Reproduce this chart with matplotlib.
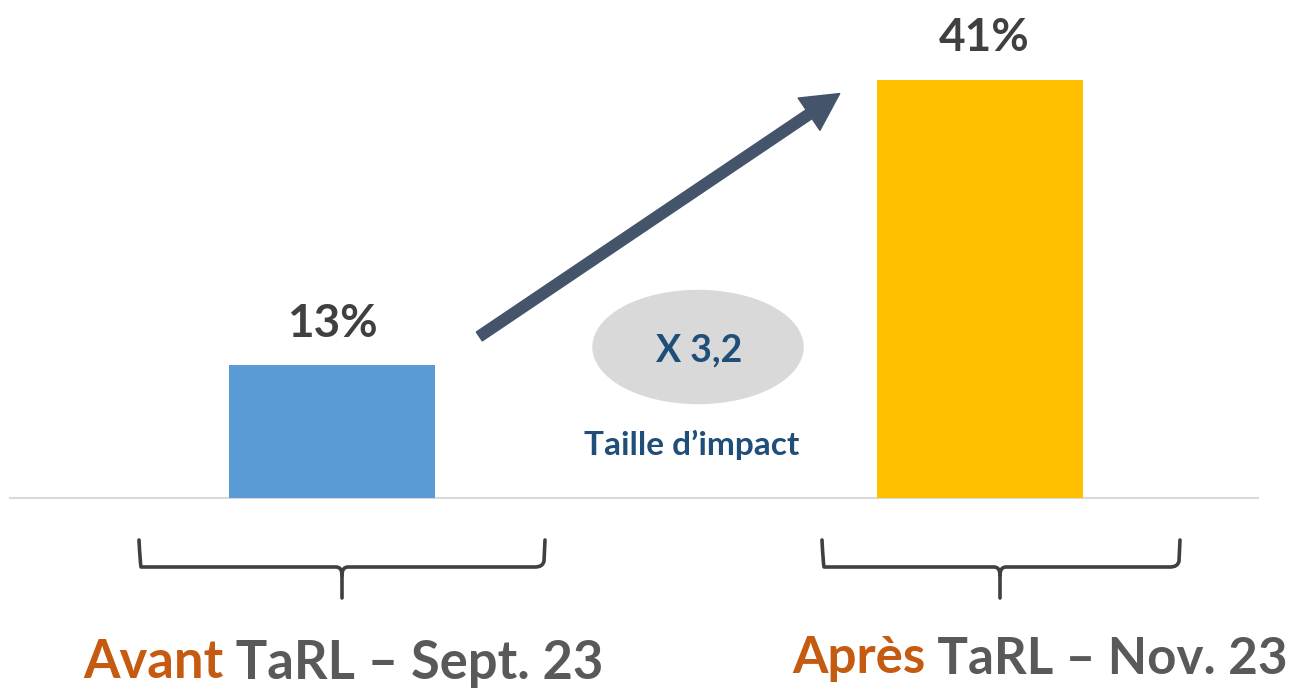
import matplotlib
matplotlib.use("Agg")
import matplotlib.pyplot as plt
from matplotlib.patches import Ellipse, FancyArrowPatch
from matplotlib.path import Path
from matplotlib.patches import PathPatch

# ---- data ----
categories = ["Avant", "Après"]
values = [13, 41]
bar_colors = ["#5B9BD5", "#FFC000"]
value_labels = ["13%", "41%"]
prefix_labels = ["Avant", "Après"]
suffix_labels = [" TaRL – Sept. 23", " TaRL – Nov. 23"]
ratio_label = "X 3,2"
ratio_caption = "Taille d’impact"

W, H = 1299, 691
plt.rcParams['font.family'] = ['Lato', 'DejaVu Sans']
fig = plt.figure(figsize=(W / 100, H / 100), dpi=100)
ax = fig.add_axes([0, 0, 1, 1])

# pixel mapping helpers (x px from left, y px from top)
X0, XSTEP = 332.0, 648.0
Y0, YSTEP = 498.0, 10.2
def dx(px):
    return (px - X0) / XSTEP
def dy(py):
    return (Y0 - py) / YSTEP

ax.set_xlim(dx(0), dx(W))
ax.set_ylim(dy(H), dy(0))
ax.axis("off")

xpos = [0, 1]
ax.bar(xpos, values, width=206 / XSTEP, color=bar_colors, zorder=2)
ax.plot([dx(10), dx(1258)], [0, 0], color="#d9d9d9", lw=1.5, zorder=1)

# value labels
for x, v, lab in zip(xpos, values, value_labels):
    ax.text(x + (0.006 if v > 20 else 0), v + 4.1, lab, ha="center", va="center",
            fontsize=33, fontweight="bold", color="#404040")

# arrow
arr = FancyArrowPatch((dx(477), dy(338)), (dx(842), dy(92)),
                      arrowstyle="simple,head_width=2.0,head_length=1.9,tail_width=0.55",
                      mutation_scale=14, color="#44546A", zorder=3)
ax.add_patch(arr)

# ellipse with ratio
ell = Ellipse((dx(698), dy(347)), 210 / XSTEP, 113 / YSTEP, color="#d9d9d9", zorder=2)
ax.add_patch(ell)
ax.text(dx(699), dy(350), ratio_label, ha="center", va="center", fontsize=27,
        fontweight="bold", color="#1F4E79", zorder=4)
ax.text(dx(692), dy(445), ratio_caption, ha="center", va="center", fontsize=24,
        fontweight="bold", color="#1F4E79")

# braces
def brace(x1, x2, xc, ytop=540, ymid=567, ybot=598):
    verts = [
        (x1, ytop), (x1 + 1, ymid - 6), (x1 + 2, ymid), (x1 + 10, ymid),
        (xc - 6, ymid), (xc, ymid), (xc, ymid + 8), (xc, ybot),
        (xc, ymid + 8), (xc, ymid), (xc + 6, ymid),
        (x2 - 10, ymid), (x2 - 2, ymid), (x2 - 1, ymid - 6), (x2, ytop),
    ]
    codes = [Path.MOVETO, Path.CURVE3, Path.CURVE3, Path.LINETO,
             Path.LINETO, Path.CURVE3, Path.CURVE3, Path.LINETO,
             Path.MOVETO, Path.CURVE3, Path.CURVE3,
             Path.LINETO, Path.CURVE3, Path.CURVE3, Path.LINETO]
    v = [(dx(a), dy(b)) for a, b in verts]
    ax.add_patch(PathPatch(Path(v, codes), fill=False, lw=2.6, color="#404040",
                           capstyle="round", joinstyle="round"))

brace(139, 545, 342)
brace(822, 1180, 1000)

# bottom labels
label_pos = [(83, 663), (792, 659)]
label_sizes = [37.8, 36.8]
for (px, py), fs, pre, suf in zip(label_pos, label_sizes, prefix_labels, suffix_labels):
    t = ax.text(dx(px), dy(py), pre, ha="left", va="center", fontsize=fs,
                fontweight="bold", color="#C55A11")
    fig.canvas.draw()
    bb = t.get_window_extent()
    inv = ax.transData.inverted()
    xr = inv.transform((bb.x1, bb.y0))[0]
    ax.text(xr, dy(py), suf, ha="left", va="center", fontsize=fs,
            fontweight="bold", color="#595959")

fig.savefig("out.png", dpi=100)
